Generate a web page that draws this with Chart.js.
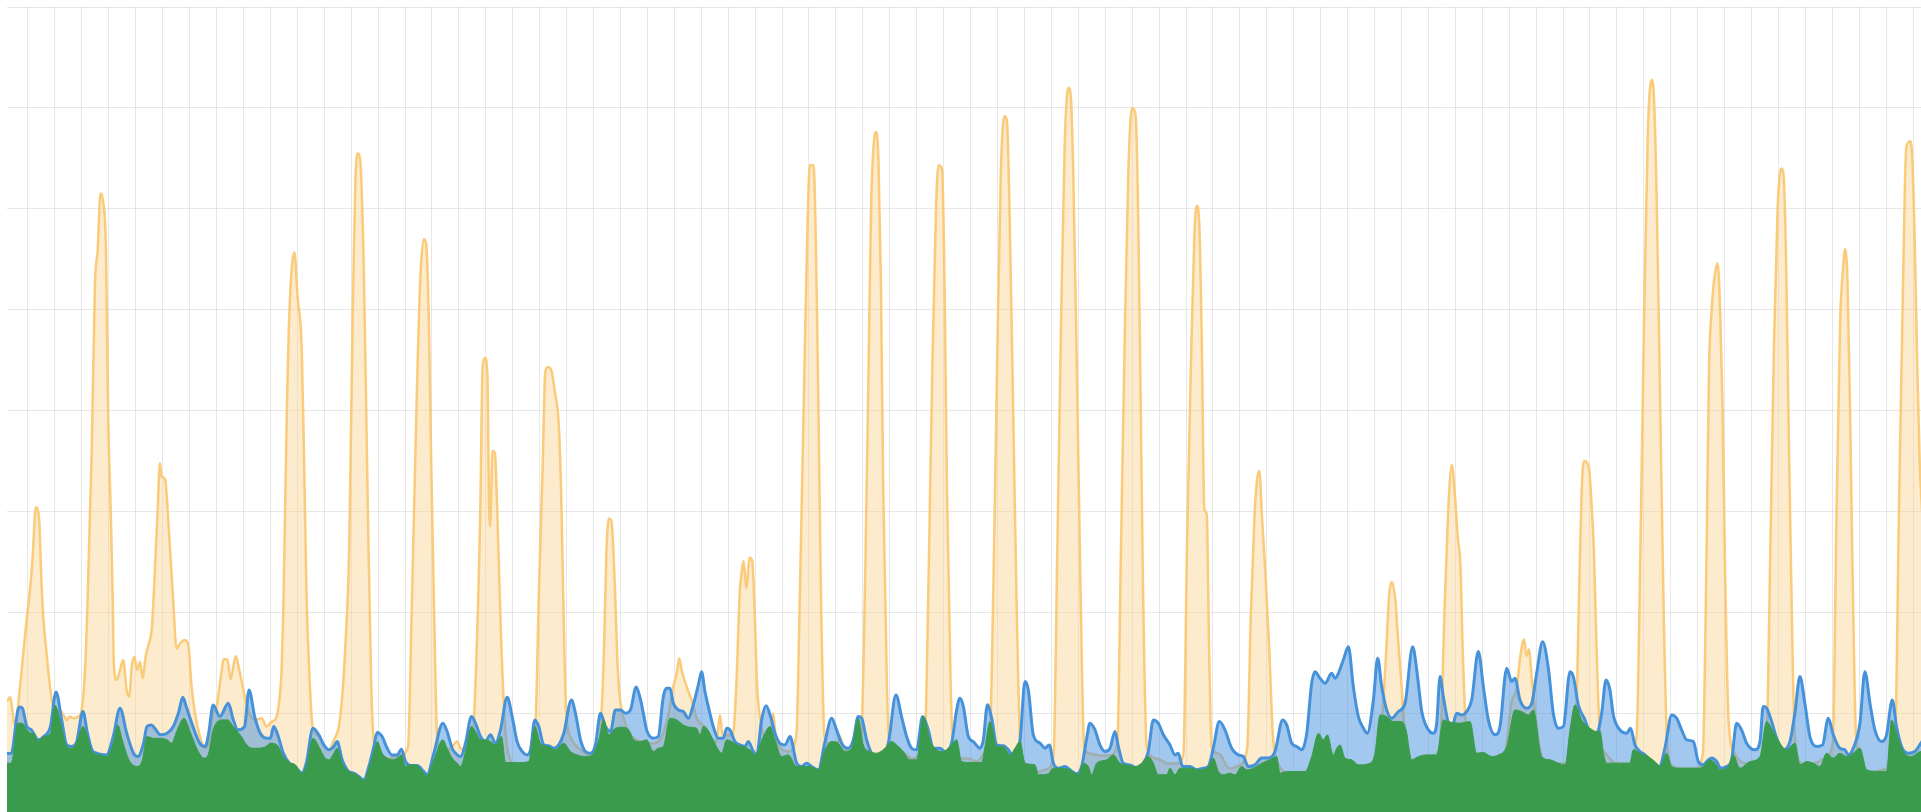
<!DOCTYPE html>
<html>
<head>
<meta charset="utf-8">
<title>Traffic</title>
<script src="https://cdn.jsdelivr.net/npm/chart.js@4.4.1/dist/chart.umd.min.js"></script>
<style>
    html, body { margin: 0; padding: 0; background: #fff; overflow: hidden; }
    #wrap { width: 1921px; height: 814px; }
</style>
</head>
<body>
<div id="wrap"><canvas id="chart" width="1921" height="814"></canvas></div>
<script>
// hours since start of window
const orangeX = [5,8,12.4,16.9,19.8,22.8,26,28,31,34,36,38,40.6,43.6,46.6,49.5,52.5,55.5,58.5,61.4,64.4,68.8,71.8,74.8,76.8,80.8,83.7,86.1,88.6,90.8,93.5,95.5,97.9,99.5,100.5,103,106,108.9,111.9,114.3,116.4,118.7,121.4,123.8,126.2,128.8,131.8,134.5,137,139.5,141.6,143,146.1,149.6,153.2,156.5,159.4,163.9,166.9,169.8,172.8,177.3,181.7,185,189,192.1,195.1,198.6,201.6,204.6,209,212.9,217.3,221.2,226.3,232.2,236.7,241.1,245,248,250,251.5,253,255,257.4,261.4,264.3,267.9,269.9,272.3,275.3,277.6,283.2,289.1,292.1,296.6,301,304,307,310.2,313.5,315.7,317.9,320,323.3,326.6,329.9,333.1,345,355,362.6,365.9,370.3,373.5,376.8,379,381.2,383.4,386.6,388.8,395,402,406.5,409.5,413.9,419.4,422.7,427,429.2,431.4,433.6,434.7,435.8,438,440.1,442.3,445.6,448.9,452,460,470,474,476.2,479.4,482.7,484.9,487.1,490.4,493.6,496.9,499.1,501.3,503.5,508,515,525,532,534,537.3,539.5,541.7,543.9,547.1,549.3,551.5,555.9,560,570,580,588,595,599.1,602.1,604.4,606.5,609.5,612.5,615.4,620,628,635,638,640.7,643,648,652,655.2,658.5,659.6,661.8,664,667.2,669.4,671.6,673.8,677.1,682,686,688.2,690,695,702,708.7,712,715.3,718.5,720.7,724,726.2,728.4,730.6,733.8,738,745,747.6,750,756,762,766.6,769.9,773.1,775.3,777.5,779.7,781.9,784.1,786.2,789.5,791.7,798,805,812,818,823.4,826.6,829.9,833.2,835.4,838.6,840.8,843,846.3,848.5,855,862,870,876,881.2,884.5,887.8,891,894.3,896.5,898.7,901.9,905.2,908.5,915,925,933,938,941.3,944.5,947.8,951.1,953.3,955.5,958.7,962,965.3,970,980,988,994.8,998,1001.3,1004.6,1007.9,1011.1,1013.3,1015.5,1017.7,1021,1030,1040,1048,1053.7,1057,1060.3,1063.5,1065.7,1067.9,1070.1,1072.3,1074.5,1076.6,1078.8,1085,1095,1103,1110.5,1113.8,1117.1,1119.3,1121.4,1123.6,1126.9,1130.2,1133.4,1138,1150,1170,1200,1220,1228,1230.6,1233.9,1237.1,1239.3,1242.6,1244.8,1248.1,1251.3,1256,1270,1280,1283,1286.3,1289.5,1292.8,1296.1,1298.3,1300.5,1302.6,1305.9,1312,1330,1340,1346,1350.7,1354,1357.2,1359.4,1361.6,1363.8,1367.1,1372,1380,1395,1403,1406.4,1408.6,1410.7,1415.1,1417.3,1419.5,1421.6,1424.9,1430,1440,1450,1457.6,1460.9,1464.2,1467.5,1470.8,1473,1475.2,1478.4,1481.7,1485,1490,1500,1510,1516.6,1519.9,1522.1,1524.3,1526.5,1529.7,1531.9,1534.1,1536.3,1539.6,1545,1555,1565,1573.4,1576.7,1580,1583.2,1586.5,1588.7,1590.9,1593.1,1595.3,1598.5,1605,1615,1625,1632.4,1635.7,1639,1641.1,1643.3,1645.5,1647.7,1649.9,1653.1,1660,1670,1680,1688,1691.3,1694.6,1697.9,1701.2,1703.3,1705.5,1707.7,1709.9,1712];
const orangeY = [111.5,115.7,88.4,126.3,159.3,192.3,225,252,304,291,230,190,159.3,126.3,106.5,101.6,103.2,98.2,93.3,96.6,94.9,96.6,103.2,142.8,200,361,526,559,615,608,559,393,294,215,150,132.9,142.8,152.7,123,116.4,146.1,156,142.8,151,134.5,156,169.2,186,240,300,348,335,332,281,215,164,169,172.5,167.5,126.3,99.9,76.8,65.2,70,100,106.5,129.6,153.4,153.4,133.6,156.7,139.5,116.4,99.9,93.3,94.9,86.7,91.6,94.9,113.1,142.8,200,294,417,509,557,512,463,361,215,126,87,76.8,65.2,63.6,73.5,86.7,116.4,170,261,503,625,655,649,540,321,127,66,55,58,66,200,406,528,570,564,491,346,163,72,62,66.9,71.8,65.2,63.6,66,127,297,443,452,430,321,285,360,358,297,176,91,60,48,48,70,85,224,346,437,443,440,418,388,321,200,103,75,65,58,62,78,163,261,293,291,224,151,115,91,80,72,70,75,100,126.3,139.5,154.4,142.8,131.3,121.4,113.1,95,85,70,75,98.2,78,78,78,127,224,236,251,224,254,251,200,127,91,75,85,100,80,65,62,78,224,406,576,643,643,564,406,224,78,70,70,77,68,62,70,78,224,443,600,661,676,649,528,321,127,66,65,60,55,58,78,236,443,600,643,639,528,321,127,66,55,55,52,60,78,236,455,637,692,686,600,406,200,66,48,42,45,60,261,479,661,720,712,637,443,224,66,60,58,58,70,261,467,637,700,692,600,418,224,66,55,50,50,60,273,443,576,603,582,467,303,297,163,66,60,45,48,65,200,297,331,340,297,236,163,78,50,40,40,40,45,60,91,151,218,230,212,176,127,78,50,50,60,78,200,297,346,309,273,248,163,78,60,55,60,110,125,157,173,157,163,139,100,60,50,50,78,224,321,350,343,309,261,176,78,60,50,50,78,261,491,673,728,710,625,418,200,66,47,45,45,60,261,443,497,528,546,503,406,248,91,60,50,52,78,261,467,600,640,631,540,382,236,78,50,50,55,70,297,491,534,560,528,406,248,78,45,42,45,78,297,503,661,667,649,564,443,346,300];

const blueX = [5,9,15,17,19,23,27,29,33,38,44,49,54,58.5,63,67,73,77,81,85,94,100,106,112,118,122,127,130,134,137,142,148,153.5,158,162,165,171,177,182,185,189,195,202.5,207,211,217,221,226,231,237,240,243,247,251.5,257,262,268,272,278,283.2,287.7,292.1,296.6,299.5,304,310,314.4,318.8,323.3,327.8,332.2,335.2,339.6,344.1,348.5,353,356.9,360.4,364.9,370.8,376.8,379.7,385.7,393.7,397.5,402,406.5,409.5,413.9,419.2,422.8,427.3,431.7,436.2,440.6,445.1,451,455.5,459.9,464.4,468.8,471.8,475.7,479.2,483.7,488.1,492.6,497,501.5,508.3,511.9,516.4,520.8,525.3,529.7,534.2,538.6,543.1,547.5,552,556.4,560.9,566,569.5,572.4,575.3,581.3,585.7,590.2,593.2,596.1,599.1,603.6,608,612.5,616.9,621.4,624.3,627.3,630.3,634.7,639.2,643.7,646.6,649.6,654,658.5,662.9,665.9,670.4,673.4,677.8,681.7,685.8,689.7,694.1,698.6,703.1,709,713.5,717.9,722.4,728.3,734.3,740.2,744.6,749.1,755,759.5,763.9,766.9,771.4,775.8,780.3,784.7,790.7,797.5,802.5,807,811.5,815.9,821.3,826.3,830.8,836.7,841.2,847.1,851.6,854.5,857.6,862,866.5,872.4,875.4,879,882.8,887.3,893.2,897.7,900.6,905.1,908.1,912.5,915.5,919.9,925.9,930.3,934.2,937.8,942.2,948.2,952.6,958.6,963,967.5,970.4,974.9,979.3,983.8,988.3,992.7,995.7,1000.1,1006.1,1012,1018,1022.4,1026.9,1031.3,1035.8,1041.7,1046.2,1049.1,1053,1059.5,1065.5,1071.4,1075.9,1080.3,1085.7,1090.7,1096.7,1102.6,1107.1,1111.5,1117.4,1123.4,1129.3,1135.3,1142.1,1145.7,1150.2,1154.7,1159.1,1163.6,1168,1171,1175.4,1179.9,1185.8,1188.8,1191.8,1196.2,1200.7,1205.1,1209.6,1214.1,1217.6,1223,1226.8,1230.4,1234.8,1239.3,1245.2,1251.2,1258,1261.6,1266.1,1272,1276.4,1279.4,1282.4,1285.3,1289.8,1292.8,1297.2,1301.7,1306.1,1310.6,1316.5,1321,1325.4,1331.4,1335.8,1341.8,1346.2,1349.2,1353.6,1359.6,1364.1,1368.5,1373.8,1378.9,1383.3,1387.8,1392.3,1398.2,1401.2,1405.6,1411.6,1417.5,1422,1426.4,1430.3,1433.8,1436.8,1442.7,1448.7,1452.2,1456.1,1460.5,1465,1470.9,1477.8,1482.8,1488.8,1493.2,1497.7,1502.1,1508.1,1512.5,1517,1520,1524.4,1528.9,1532.4,1537.8,1542.2,1546.7,1551.1,1555.6,1563,1567.5,1570.4,1573.4,1577.9,1582.3,1588.3,1594.2,1598.6,1603.1,1607.5,1612,1617.9,1623.3,1628.4,1632.8,1638.7,1643.2,1646.2,1650.6,1656.6,1661,1665.5,1669.9,1675.9,1680.3,1685.4,1689.2,1693.7,1699.6,1705.6,1710.9,1712];
const blueY = [60,60,103,106,105,86.7,83.4,80,73.5,76.8,86.7,121,93.3,68.5,66.9,70.2,101.6,80,63.6,60.3,58.6,76.8,104.8,80,60.3,57,70.2,86.7,88.3,85,78.5,80,86.7,99.9,115.7,106.5,86.7,70.2,66.9,80,108,96.6,109.8,93.3,83.4,86.7,123,96.6,80,75,75,86.7,77,60.3,50.4,47.1,40.5,50.4,85,78.5,68.5,63.6,66.9,71.8,53.7,42,40.5,37.2,33.9,47.1,66.9,80.8,76.8,65.2,58.6,58.6,64.3,52,48,48,42,38.9,60.3,90,81.8,65.2,58.6,57,70.2,96.6,90,76.8,71.8,78.5,70.2,83.4,115.7,96.6,71.8,62,58.6,63.6,93.3,86.7,68.5,67.6,65.2,68.5,80,113,99.9,73.5,62,60.3,68.5,99.9,86.7,81.8,103.2,103.2,99.9,103.2,126,115,99.9,83.4,75.2,76.8,116.4,124.6,124.6,109.8,103.2,101.6,94.9,108.2,128,141.1,121.4,106.5,86.7,75.2,75.2,85,83.4,71.8,68.5,66.9,71.8,62,58.6,93.3,107.2,96.6,80,70.2,68.5,76.8,50.4,47.1,50.4,47.1,43.8,71.8,94.9,83.4,70.2,65.2,73.5,96.6,95,73.5,60.3,57,57,70.2,118,96.6,76.8,65.2,63.6,96.6,83.4,65.2,65.2,62,70.2,103.2,114.7,106.5,76.8,71.8,65.2,73.5,108.2,95,68.5,67.6,63.6,59.3,65.2,73.5,131.3,123,78.5,70.2,65.2,68.5,50.4,45.4,47.1,43.8,39.9,47.1,75.2,90,83.4,68.5,62,65.2,81.8,66.9,50.4,48.7,45.4,50.4,62,93.3,90,78.5,68.5,58.6,60.3,47.1,47.1,43.8,45.4,47.1,65.2,91.6,83.4,65.2,58.6,57,47.1,48.7,55.4,55.4,62,93.3,88.3,70.2,66.9,63.6,80,129.6,141.1,134.5,129.6,139.5,134.5,139.5,152.7,165.9,126.3,96.6,85,80,113.1,154.3,126.3,103.2,95,101.6,109.8,165.9,142.8,101.6,83.4,80,90,136.2,116.4,90,85,99.9,98.2,101.6,113.1,161,126.3,93.3,78.5,86.7,144.5,131.3,134.5,113.1,104.9,109.8,139.5,170.8,144.5,99.9,85,86.7,141.1,136.2,108.2,93.3,76.8,78.5,99.9,132.9,123,98.2,83.4,80,85,68.5,62,58.6,52,47.1,65.2,98.2,95,83.4,73.5,71.8,52,48.7,52,55.4,52,45.4,47.1,53.7,90,83.4,70.2,63.6,71.8,106.5,104.9,91.6,75.2,63.6,71.8,99.9,136.2,109.8,76.8,66.9,68.5,95,78.5,65.2,63.6,58.6,65.2,90,141.1,109.8,83.4,71.8,78.5,113.1,86.7,66.9,60.3,62,70.2,72];

const greenX = [5,9,15,19,23,27,29,33,38,44,48,53,58.5,63,67,73,77,81,88,94,100,104,108,114,121,126,130,136,142,148,152,157,163,169,175,181,185,189,197,202,207,213,219,224,229,236,240,246,251.5,257,262,268,272,278,284,287.7,292.1,296.6,299.5,304,310,314.4,318.8,323.3,327.8,332.2,335.2,339.6,344.1,348.5,353,356.9,360.4,364.9,370.8,376.8,379.7,385.7,393.7,397.5,402,406.5,409.5,413.9,419.2,422.8,427.3,431.7,436.2,440.6,446,449.6,461.4,470.3,475.7,480.7,488.1,494.1,501.5,507.4,513.4,520.8,526.8,532.7,537.1,541.6,547.5,553.5,559.4,563.9,569.4,575.3,581.3,585.7,590.2,596.1,602.1,608,614,619.9,622.9,625.8,628.8,634.7,639.2,642.2,646.6,651.1,655.6,661.5,667.4,671.9,679.3,685.2,689.7,695.6,701.6,709,715,720.9,728.3,734.3,740.2,746.1,752.1,758,763.9,768.4,774.3,780.3,787.7,793.6,798.1,804,810,815.9,821.9,827.8,833.7,839.7,845.6,851.6,856,863.5,873.9,876.9,881.3,887.3,893.2,899.2,903.6,908.1,912.5,921.4,924.4,933.3,937.8,943.7,952.6,960.1,964.5,969,971.9,976.4,985.3,991.2,997.2,1003.1,1010.5,1016.5,1022.4,1026.9,1031.3,1038.8,1041.7,1046.2,1050.6,1059.5,1068.4,1075.9,1080.3,1084.8,1089.2,1095.2,1099.6,1105.6,1110,1116,1123.4,1130.8,1136.8,1139.7,1145.7,1157.6,1162.1,1168,1174,1178.4,1182,1187.3,1190.3,1193.3,1197.7,1203.7,1209.6,1220,1224.4,1228.9,1234.8,1240.8,1248.2,1252.1,1257.1,1263.1,1270.5,1279.4,1285.3,1289.8,1300.2,1309.1,1315,1321,1328.4,1334.3,1341.8,1349.2,1355.1,1361.1,1365.5,1373,1380.4,1387.8,1393.8,1398.2,1402.7,1408.6,1416,1422,1425,1428,1431,1442.7,1451.6,1454.6,1460.5,1468,1475.4,1478.4,1484.3,1488.8,1496.2,1505.1,1512.5,1517,1522.9,1527.4,1531.8,1539.2,1543.7,1549.6,1558.6,1567.5,1573.4,1579.3,1585.3,1591.2,1598.6,1603.1,1609,1615,1620.9,1626.9,1632.8,1638.7,1644.7,1650.6,1656.6,1662.5,1671.4,1680.3,1684.8,1689.2,1695.2,1702.6,1710.9,1712];
const greenY = [50.4,50.4,90,90,83.4,80,80,72,76.8,80,108,91,66.9,65,70.2,86.7,76.8,62,58.6,57,70.2,88.3,73.5,53.7,47.1,53.7,76.8,75,75,73.5,70.2,83.4,95,80,63.6,55.4,60.3,83.4,93.3,93.3,86.7,78.5,68.5,65.2,65.2,66.9,70.2,68.5,57,51,49,40.5,47,75,65.2,57,53.7,60.3,65.2,50.4,42,40.5,37.2,33.3,45.4,62,71.8,60.3,55.4,53.7,55.4,58.6,47.1,48.7,48,40.5,37.9,53.7,73.5,65.2,55.4,50.4,47.1,62,86.7,81.8,73.5,73.5,71.8,68.5,76.8,51,51,52,86.7,70.2,66.9,63.6,70.2,62,58.6,57,58.6,73.5,93.3,78.5,85,86,83.4,73.5,71.8,73.5,62,65.2,66.9,94.9,93.3,88.3,86,85,78.5,86.7,85,73.5,63.6,60.3,73.5,71.8,68.5,66.9,63.6,58.6,76.8,86.7,73.5,57,58.6,47.1,47.1,47.1,43.8,63.6,71.8,70.2,62,65.2,94.9,68.5,62,60.3,65.2,71.8,68.5,62,53.7,53.7,96.6,73.5,63.6,62,66.9,73.5,52,51,51,66.9,91.6,66.9,66.9,58.6,65.2,71.8,50.4,48.7,38.9,39.9,45.4,45.4,43.8,38.9,50.4,47.1,38.9,50.4,53.7,58.6,50.4,48.7,47.1,50.4,57,50.4,38.9,38.9,45.4,38.9,45.4,45.4,43.8,47.1,55.4,42.2,38.9,40.5,38.9,47.1,43.8,45.4,50.4,53.7,57,40.5,42.2,42.2,42.2,57,80,73.5,78.5,58.6,65.2,68.5,55.4,53.7,48.7,50.4,60.3,98.2,96.6,91.6,91.6,83.4,53.7,57,58.6,58.6,93.3,91.6,90,91.6,60.3,61,57,58.6,66.9,103.2,101.6,98.2,103.2,57,53.7,50.4,48.7,83.4,108.2,93.3,85,81.8,82,60,50.4,50.4,50.4,63.6,60.3,57,50.4,47.1,60.3,47.1,45.4,45.4,45.4,47.1,53.7,50.4,43.8,47.1,58.6,45.4,52,57,91.6,81.8,70.2,63.6,70.2,48.7,52,50.4,47.1,60.3,55.4,60.3,57,60.3,65.2,43.8,42.2,42.2,93.3,80,62,57,62,62];

const yTicks = [0, 100, 200, 300, 400, 500, 600, 700, 800];

function toPoints(xs, ys) {
    return xs.map((x, i) => ({ x: x, y: ys[i] }));
}

const gridColor = 'rgba(0,0,0,0.09)';

new Chart(document.getElementById('chart'), {
    type: 'line',
    data: {
        datasets: [
            { label: 'green', data: toPoints(greenX, greenY), fill: 'origin', backgroundColor: '#3a9b4c', borderColor: '#3a9b4c', borderWidth: 1 },
            { label: 'blue', data: toPoints(blueX, blueY), fill: 'origin', backgroundColor: 'rgba(70,145,225,0.5)', borderColor: '#4592da', borderWidth: 3 },
            { label: 'orange', data: toPoints(orangeX, orangeY), fill: 'origin', backgroundColor: 'rgba(250,205,130,0.4)', borderColor: 'rgba(250,198,110,0.9)', borderWidth: 2.5 }
        ]
    },
    options: {
        responsive: false,
        animation: false,
        devicePixelRatio: 1,
        layout: { padding: { top: 7, left: 7, right: 0, bottom: 0 } },
        elements: {
            point: { radius: 0 },
            line: { cubicInterpolationMode: 'monotone', borderJoinStyle: 'round' }
        },
        plugins: { legend: { display: false }, tooltip: { enabled: false } },
        scales: {
            x: {
                type: 'linear', min: 5.3, max: 1711,
                ticks: { display: false, stepSize: 24, includeBounds: false, maxTicksLimit: 200 },
                grid: { color: gridColor, drawTicks: false },
                border: { display: false }
            },
            y: {
                min: yTicks[0], max: yTicks[yTicks.length - 1],
                ticks: { display: false, stepSize: yTicks[1] - yTicks[0] },
                grid: { color: gridColor, drawTicks: false },
                border: { display: false }
            }
        }
    }
});
</script>
</body>
</html>
